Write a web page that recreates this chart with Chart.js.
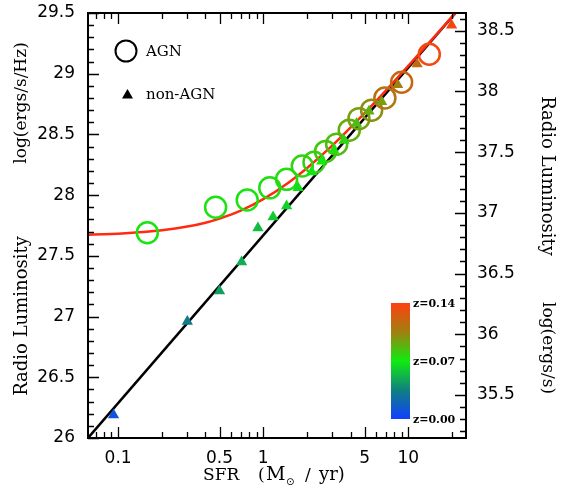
<!DOCTYPE html>
<html>
<head>
<meta charset="utf-8">
<script src="https://cdn.jsdelivr.net/npm/chart.js@4.4.1/dist/chart.umd.min.js"></script>
<style>
  html, body { margin: 0; padding: 0; background: #fff; }
  #wrap { width: 562px; height: 494px; }
</style>
</head>
<body>
<div id="wrap"><canvas id="chart" width="562" height="494"></canvas></div>
<script>
// non-AGN galaxies (triangles): SFR, log L(1.4GHz), redshift
const sfrStar = [0.093, 0.30, 0.50, 0.71, 0.92, 1.17, 1.45, 1.74, 2.16, 2.53, 3.07, 3.60, 4.40, 5.36, 6.56, 8.45, 11.5, 19.9];
const lumStar = [26.19, 26.96, 27.21, 27.45, 27.73, 27.82, 27.91, 28.06, 28.19, 28.28, 28.37, 28.45, 28.59, 28.69, 28.77, 28.91, 29.08, 29.40];
const zStar   = [0.010, 0.032, 0.045, 0.050, 0.055, 0.060, 0.062, 0.066, 0.068, 0.070, 0.073, 0.077, 0.085, 0.090, 0.095, 0.105, 0.118, 0.136];

// AGN (open circles)
const sfrAgn = [0.159, 0.47, 0.776, 1.11, 1.45, 1.86, 2.24, 2.69, 3.21, 3.92, 4.57, 5.59, 6.9, 9.0, 13.96];
const lumAgn = [27.69, 27.90, 27.96, 28.06, 28.13, 28.24, 28.27, 28.36, 28.42, 28.535, 28.63, 28.70, 28.80, 28.93, 29.16];
const zAgn   = [0.072, 0.073, 0.073, 0.074, 0.075, 0.077, 0.079, 0.082, 0.085, 0.090, 0.095, 0.100, 0.112, 0.118, 0.135];

// fitted relations
const sfrFit = [0.062, 25];
const lumFit = [26.0, 29.6];
const sfrAgnFit = [0.062, 0.08, 0.1, 0.15, 0.2, 0.3, 0.4, 0.5, 0.7, 1, 1.5, 2, 3, 5, 7, 10, 15, 25];
const lumAgnFit = [27.674, 27.678, 27.683, 27.696, 27.71, 27.741, 27.773, 27.807, 27.872, 27.967, 28.105, 28.222, 28.41, 28.676, 28.861, 29.064, 29.299, 29.60];

// tick labels
const xLabels = [0.1, 0.5, 1, 5, 10];
const yLabels = [26, 26.5, 27, 27.5, 28, 28.5, 29, 29.5];
const y2Labels = [35.5, 36, 36.5, 37, 37.5, 38, 38.5];
const zLabels = ['z=0.14', 'z=0.07', 'z=0.00'];

const lumOffset = 9.146; // log(1.4e9 Hz)

// redshift colour map
const zStops = [[0, [16, 64, 255]], [0.035, [16, 128, 128]], [0.07, [16, 235, 16]], [0.105, [160, 128, 16]], [0.14, [255, 64, 16]]];
function zColor(z) {
    for (let i = 1; i < zStops.length; i++) {
        if (z <= zStops[i][0]) {
            const [z0, c0] = zStops[i - 1];
            const [z1, c1] = zStops[i];
            const t = (z - z0) / (z1 - z0);
            return 'rgb(' + c0.map((c, k) => Math.round(c + (c1[k] - c) * t)).join(',') + ')';
        }
    }
    return 'rgb(255,64,16)';
}

function toPoints(xs, ys) {
    return xs.map((x, i) => ({ x: x, y: ys[i] }));
}

const serif = '"DejaVu Serif", serif';
const sans = '"DejaVu Sans", sans-serif';

// frame, inward ticks, titles, legend and colour bar
const decor = {
    id: 'decor',
    afterDraw(chart) {
        const ctx = chart.ctx;
        const a = chart.chartArea;
        const xs = chart.scales.x, ys = chart.scales.y, y2 = chart.scales.y2;
        ctx.save();

        // ticks
        ctx.strokeStyle = '#000';
        ctx.lineWidth = 1.3;
        ctx.beginPath();
        for (let d = 0.01; d < 100; d *= 10) {
            for (let m = 1; m < 10; m++) {
                const v = +(m * d).toPrecision(3);
                if (v < xs.min || v > xs.max) continue;
                const px = Math.round(xs.getPixelForValue(v)) + 0.5;
                const len = xLabels.includes(v) ? 11 : 6;
                ctx.moveTo(px, a.bottom); ctx.lineTo(px, a.bottom - len);
                ctx.moveTo(px, a.top); ctx.lineTo(px, a.top + len);
            }
        }
        for (let i = 0; i <= 35; i++) {
            const v = 26 + i * 0.1;
            const py = Math.round(ys.getPixelForValue(v)) + 0.5;
            const len = i % 5 === 0 ? 11 : 6;
            ctx.moveTo(a.left, py); ctx.lineTo(a.left + len, py);
        }
        for (let i = 352; i <= 386; i++) {
            const v = i / 10;
            const py = Math.round(y2.getPixelForValue(v)) + 0.5;
            const len = i % 5 === 0 ? 11 : 6;
            ctx.moveTo(a.right, py); ctx.lineTo(a.right - len, py);
        }
        ctx.stroke();

        // frame
        ctx.lineWidth = 2;
        ctx.strokeRect(a.left, a.top, a.right - a.left, a.bottom - a.top);

        // axis titles
        ctx.fillStyle = '#000';
        ctx.textAlign = 'center';
        ctx.textBaseline = 'middle';
        const vText = (t, x, y, r) => {
            ctx.save(); ctx.translate(x, y); ctx.rotate(r); ctx.fillText(t, 0, 0); ctx.restore();
        };
        ctx.font = '18px ' + serif;
        vText('Radio Luminosity', 22, 316, -Math.PI / 2);
        vText('Radio Luminosity', 547, 176, Math.PI / 2);
        ctx.font = '17px ' + serif;
        vText('log(ergs/s/Hz)', 22, 103, -Math.PI / 2);
        vText('log(ergs/s)', 547, 348, Math.PI / 2);

        ctx.textAlign = 'left';
        ctx.textBaseline = 'alphabetic';
        ctx.fillText('SFR', 203, 480);
        ctx.fillText('(', 258, 480);
        ctx.font = '19px ' + serif;
        ctx.fillText('M', 266, 480);
        ctx.font = '17px ' + serif;
        ctx.fillText('/', 305, 480);
        ctx.font = '18px ' + serif;
        ctx.fillText('yr)', 319, 480);
        ctx.font = '10px ' + sans;
        ctx.fillText('\u2299', 286, 485);

        // legend
        ctx.lineWidth = 2;
        ctx.beginPath();
        ctx.arc(126, 51, 10.5, 0, Math.PI * 2);
        ctx.stroke();
        ctx.beginPath();
        ctx.moveTo(127.5, 89); ctx.lineTo(133, 98.5); ctx.lineTo(122, 98.5); ctx.closePath();
        ctx.fill();
        ctx.font = '15px ' + serif;
        ctx.textBaseline = 'middle';
        ctx.fillText('AGN', 146, 52);
        ctx.fillText('non-AGN', 146, 95);

        // colour bar
        const cb = { x: 391, y: 303, w: 19, h: 116 };
        const g = ctx.createLinearGradient(0, cb.y, 0, cb.y + cb.h);
        zStops.forEach(s => g.addColorStop(1 - s[0] / 0.14, 'rgb(' + s[1].join(',') + ')'));
        ctx.fillStyle = g;
        ctx.fillRect(cb.x, cb.y, cb.w, cb.h);
        ctx.fillStyle = '#000';
        ctx.font = 'bold 11px ' + serif;
        zLabels.forEach((t, i) => ctx.fillText(t, 413, cb.y + 1 + i * cb.h / 2));

        ctx.restore();
    }
};

const noPad = s => { s.paddingTop = 0; s.paddingBottom = 0; s.paddingLeft = 0; s.paddingRight = 0; };

const ctx = document.getElementById('chart').getContext('2d');
new Chart(ctx, {
    type: 'scatter',
    data: {
        datasets: [{
            label: 'non-AGN',
            data: toPoints(sfrStar, lumStar),
            pointStyle: 'triangle',
            pointRadius: 6.5,
            borderWidth: 0,
            backgroundColor: zStar.map(zColor),
            borderColor: zStar.map(zColor)
        }, {
            label: 'AGN',
            data: toPoints(sfrAgn, lumAgn),
            pointStyle: 'circle',
            pointRadius: 10.5,
            borderWidth: 2.5,
            backgroundColor: 'rgba(0,0,0,0)',
            borderColor: zAgn.map(zColor)
        }, {
            label: 'AGN model',
            data: toPoints(sfrAgnFit, lumAgnFit),
            showLine: true,
            pointRadius: 0,
            borderColor: '#ff2a10',
            borderWidth: 2.5,
            cubicInterpolationMode: 'monotone'
        }, {
            label: 'SF relation',
            data: toPoints(sfrFit, lumFit),
            showLine: true,
            pointRadius: 0,
            borderColor: '#000',
            borderWidth: 2.5
        }]
    },
    options: {
        responsive: false,
        animation: false,
        devicePixelRatio: 1,
        layout: { padding: { top: 9, left: 0, right: 0, bottom: 0 } },
        plugins: {
            legend: { display: false },
            tooltip: { enabled: false }
        },
        scales: {
            x: {
                type: 'logarithmic',
                position: 'bottom',
                min: 0.062,
                max: 25,
                grid: { display: false },
                border: { display: false },
                afterBuildTicks: s => { s.ticks = xLabels.map(v => ({ value: v })); },
                afterFit: s => { s.height = 56; noPad(s); },
                ticks: {
                    autoSkip: false,
                    maxRotation: 0,
                    padding: 2,
                    color: '#000',
                    font: { family: sans, size: 17 },
                    callback: v => String(v)
                }
            },
            y: {
                type: 'linear',
                position: 'left',
                min: 26,
                max: 29.5,
                grid: { display: false },
                border: { display: false },
                afterBuildTicks: s => { s.ticks = yLabels.map(v => ({ value: v })); },
                afterFit: s => { s.width = 88; noPad(s); },
                ticks: {
                    padding: 5,
                    color: '#000',
                    font: { family: sans, size: 17 },
                    callback: v => String(v)
                }
            },
            y2: {
                type: 'linear',
                position: 'right',
                min: 26 + lumOffset,
                max: 29.5 + lumOffset,
                grid: { display: false },
                border: { display: false },
                afterBuildTicks: s => { s.ticks = y2Labels.map(v => ({ value: v })); },
                afterFit: s => { s.width = 96; noPad(s); },
                ticks: {
                    padding: 3,
                    color: '#000',
                    font: { family: sans, size: 17 },
                    callback: v => String(v)
                }
            }
        }
    },
    plugins: [decor]
});
</script>
</body>
</html>
